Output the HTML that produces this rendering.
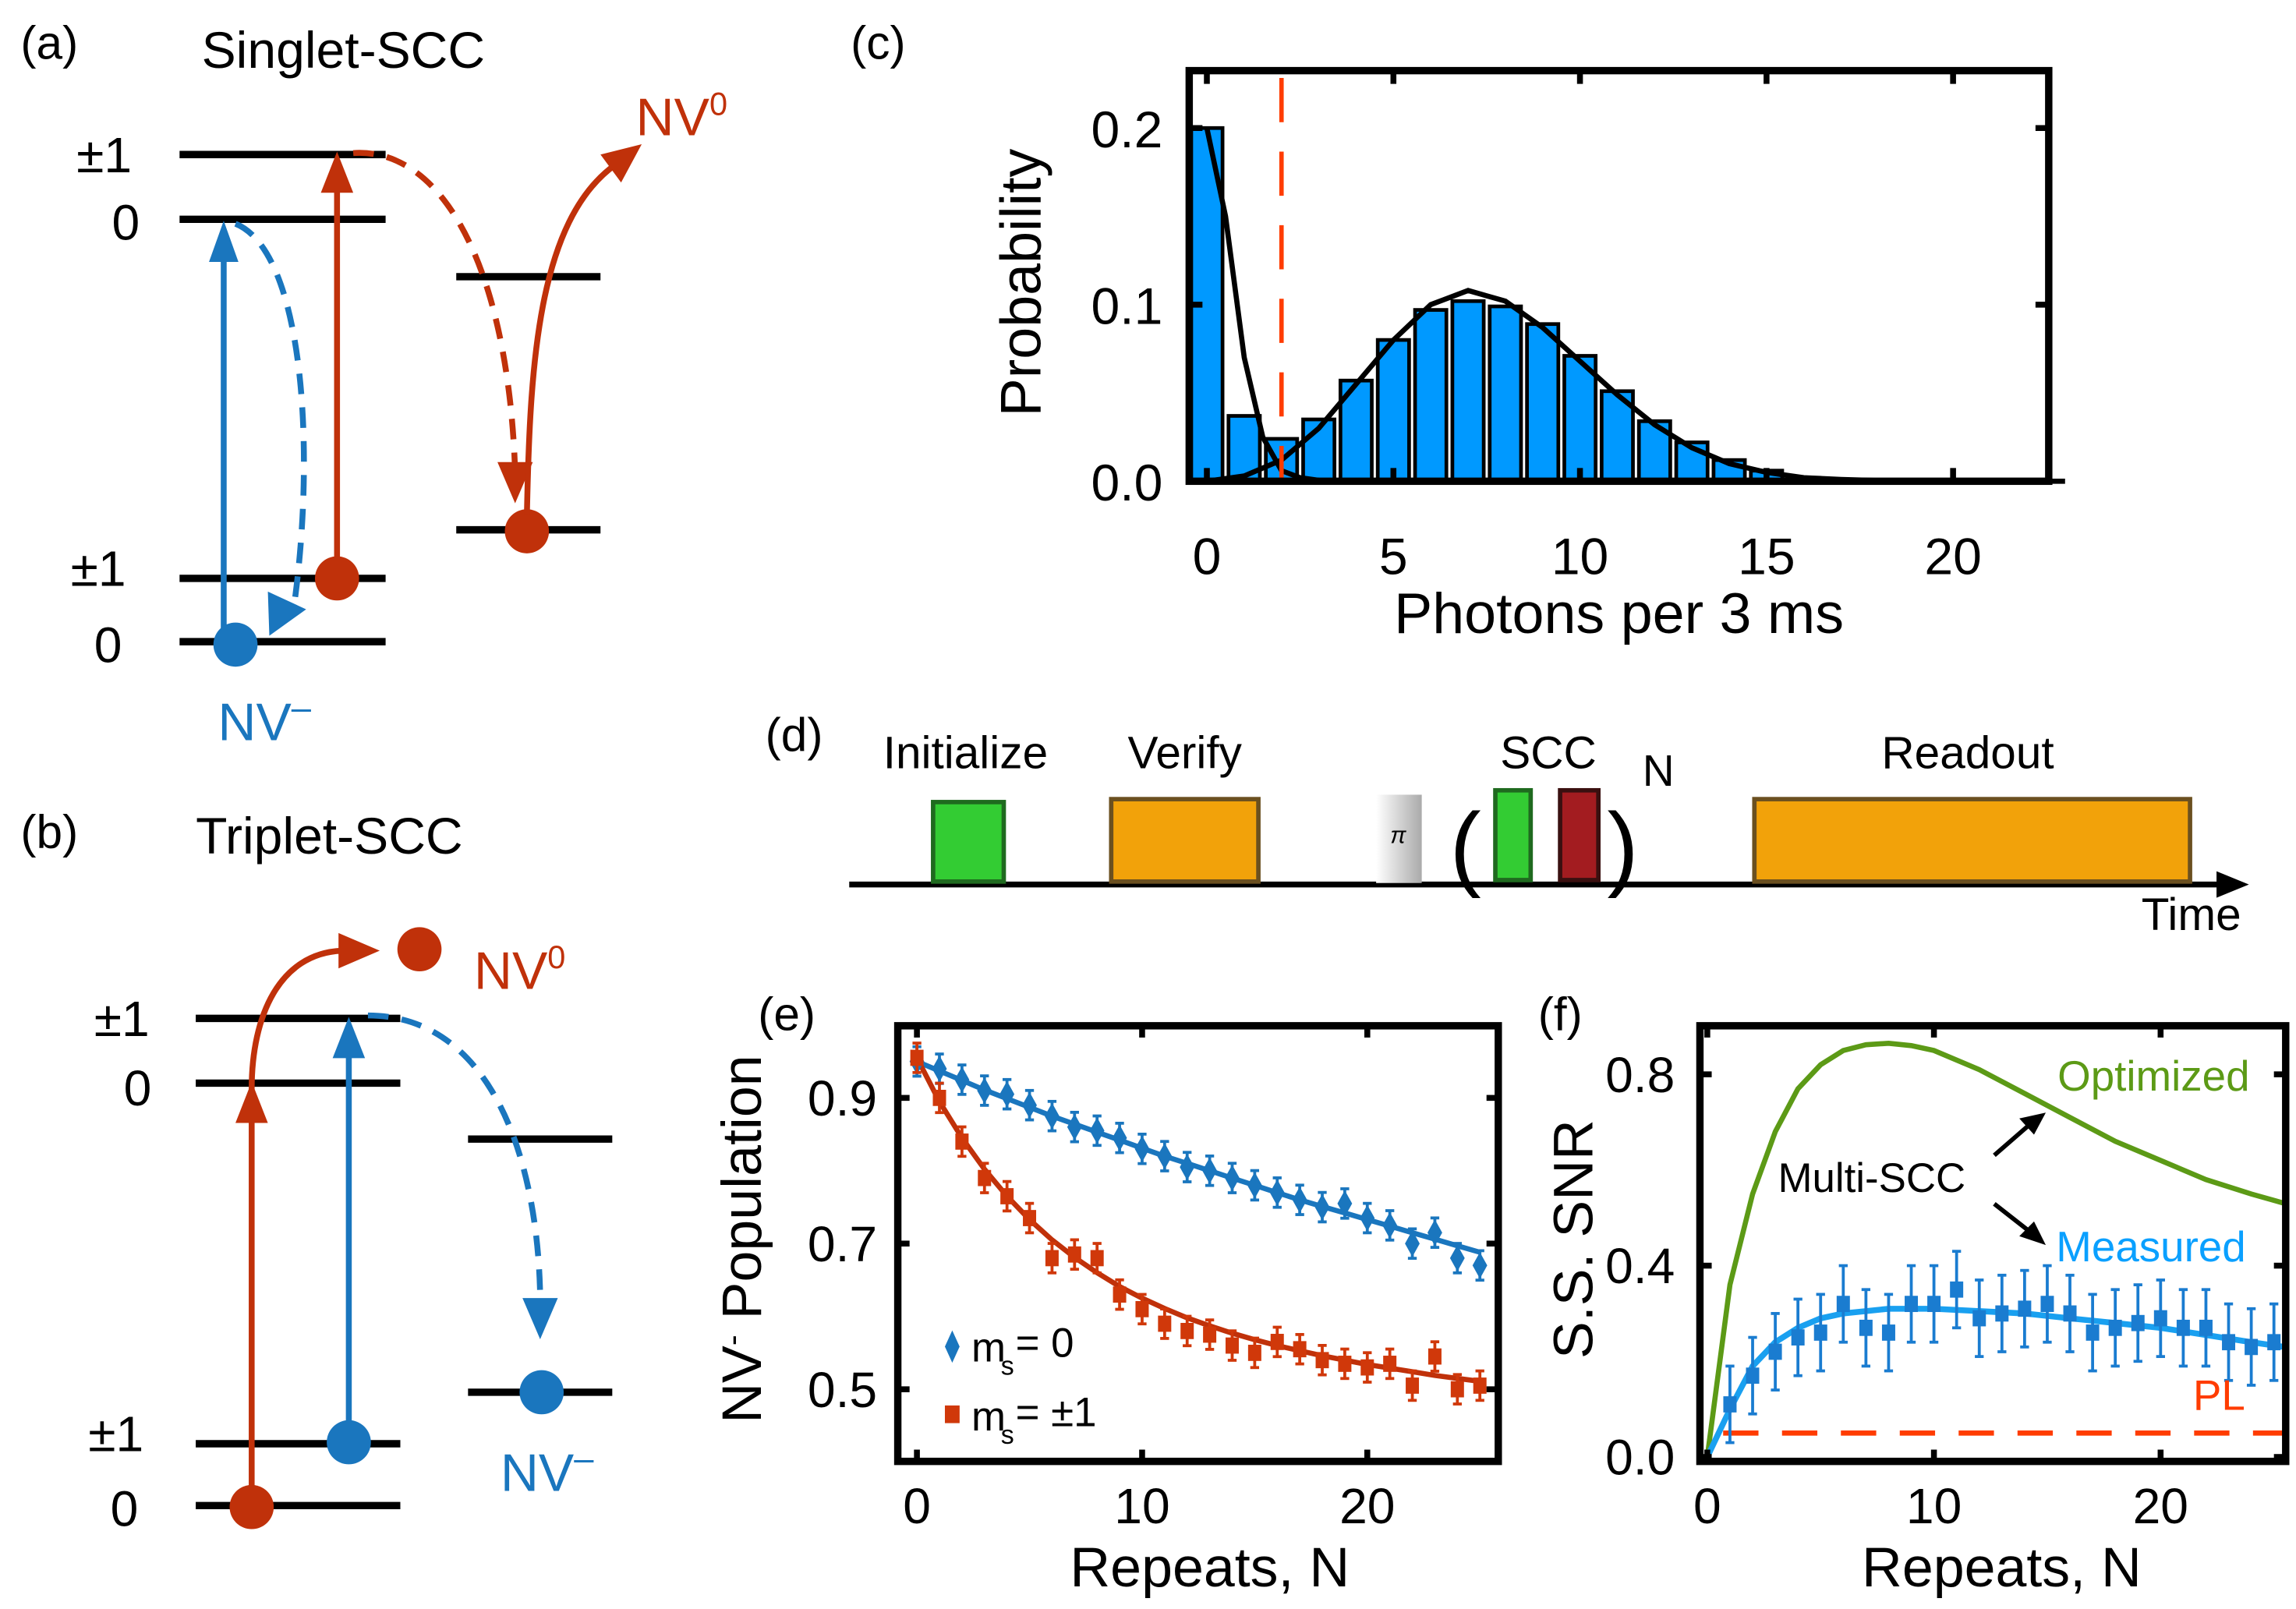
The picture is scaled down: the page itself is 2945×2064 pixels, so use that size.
<!DOCTYPE html>
<html><head><meta charset="utf-8"><style>
html,body{margin:0;padding:0;background:#fff}
svg{display:block;font-family:"Liberation Sans",sans-serif}
</style></head><body>
<svg id="fig" width="2945" height="2064" viewBox="0 0 1560 1093.3" preserveAspectRatio="none" xmlns="http://www.w3.org/2000/svg">
<defs>
<linearGradient id="pig" x1="0" x2="1"><stop offset="0" stop-color="#fff"/><stop offset="1" stop-color="#aaa"/></linearGradient>
</defs>
<g stroke-linecap="butt">
<text x="14" y="40" font-size="32">(a)</text>
<text x="137" y="46" font-size="35">Singlet-SCC</text>
<g stroke="#000" stroke-width="5">
<line x1="122" y1="105" x2="262" y2="105"/><line x1="122" y1="149" x2="262" y2="149"/>
<line x1="310" y1="188" x2="408" y2="188"/><line x1="310" y1="360" x2="408" y2="360"/>
<line x1="122" y1="393" x2="262" y2="393"/><line x1="122" y1="436" x2="262" y2="436"/>
</g>
<g font-size="34"><text x="52" y="117">±1</text><text x="76" y="163">0</text><text x="48" y="398">±1</text><text x="64" y="450">0</text></g>
<line x1="152" y1="436" x2="152" y2="170" stroke="#1a76be" stroke-width="4"/>
<polygon points="152,150 142,178 162,178" fill="#1a76be"/>
<path d="M160,152 C205,170 215,300 200,410" fill="none" stroke="#1a76be" stroke-width="4" stroke-dasharray="14,9"/>
<polygon points="183,432 182,402 208,414" fill="#1a76be"/>
<circle cx="160" cy="438" r="15" fill="#1a76be"/>
<line x1="229" y1="393" x2="229" y2="125" stroke="#c0310a" stroke-width="4"/>
<polygon points="229,103 218,131 240,131" fill="#c0310a"/>
<circle cx="229" cy="393" r="15" fill="#c0310a"/>
<path d="M240,104 C300,100 345,180 350,320" fill="none" stroke="#c0310a" stroke-width="4" stroke-dasharray="14,9"/>
<polygon points="350,342 338,314 362,314" fill="#c0310a"/>
<circle cx="358" cy="361" r="15" fill="#c0310a"/>
<path d="M358,350 C360,250 365,150 418,112" fill="none" stroke="#c0310a" stroke-width="4"/>
<polygon points="436,98 408,105 422,124" fill="#c0310a"/>
<text x="432" y="92" font-size="36" fill="#c0310a">NV<tspan dy="-14" font-size="22">0</tspan></text>
<text x="148" y="503" font-size="36" fill="#1a76be">NV<tspan dy="-14" font-size="24">–</tspan></text>
</g>
<g>
<text x="14" y="576" font-size="32">(b)</text>
<text x="133" y="580" font-size="35">Triplet-SCC</text>
<g stroke="#000" stroke-width="5">
<line x1="133" y1="692" x2="272" y2="692"/><line x1="133" y1="736" x2="272" y2="736"/>
<line x1="318" y1="774" x2="416" y2="774"/><line x1="318" y1="946" x2="416" y2="946"/>
<line x1="133" y1="981" x2="272" y2="981"/><line x1="133" y1="1023" x2="272" y2="1023"/>
</g>
<g font-size="34"><text x="64" y="704">±1</text><text x="84" y="751">0</text><text x="60" y="986">±1</text><text x="75" y="1037">0</text></g>
<path d="M171,1024 L171,740 C171,690 190,648 232,646" fill="none" stroke="#c0310a" stroke-width="4"/>
<polygon points="171,735 160,763 182,763" fill="#c0310a"/>
<polygon points="258,646 230,634 230,658" fill="#c0310a"/>
<circle cx="171" cy="1024" r="15" fill="#c0310a"/>
<circle cx="285" cy="645" r="15" fill="#c0310a"/>
<text x="322" y="672" font-size="36" fill="#c0310a">NV<tspan dy="-14" font-size="22">0</tspan></text>
<line x1="237" y1="980" x2="237" y2="712" stroke="#1a76be" stroke-width="4"/>
<polygon points="237,691 226,719 248,719" fill="#1a76be"/>
<circle cx="237" cy="980" r="15" fill="#1a76be"/>
<path d="M250,690 C330,690 365,780 367,880" fill="none" stroke="#1a76be" stroke-width="4" stroke-dasharray="14,9"/>
<polygon points="367,910 355,882 379,882" fill="#1a76be"/>
<circle cx="368" cy="946" r="15" fill="#1a76be"/>
<text x="340" y="1013" font-size="36" fill="#1a76be">NV<tspan dy="-14" font-size="24">–</tspan></text>
</g>
<g>
<text x="520" y="510" font-size="32">(d)</text>
<line x1="577" y1="601" x2="1515" y2="601" stroke="#000" stroke-width="4"/>
<polygon points="1528,601 1506,592 1506,610" fill="#000"/>
<text x="1455" y="632" font-size="31">Time</text>
<rect x="634" y="545" width="48" height="54" fill="#33cc33" stroke="#1f6a1f" stroke-width="3"/>
<text x="656" y="522" font-size="31" text-anchor="middle">Initialize</text>
<rect x="755" y="543" width="100" height="56" fill="#f2a20a" stroke="#6b5020" stroke-width="3"/>
<text x="805" y="522" font-size="31" text-anchor="middle">Verify</text>
<rect x="935" y="540" width="31" height="60" fill="url(#pig)"/>
<text x="950" y="573" font-size="16" text-anchor="middle" font-style="italic">π</text>
<text x="985" y="597" font-size="64">(</text>
<rect x="1016" y="537" width="24" height="61" fill="#33cc33" stroke="#1f6a1f" stroke-width="3"/>
<rect x="1060" y="537" width="26" height="61" fill="#a31c20" stroke="#3a1010" stroke-width="3"/>
<text x="1092" y="597" font-size="64">)</text>
<text x="1052" y="522" font-size="31" text-anchor="middle">SCC</text>
<text x="1116" y="534" font-size="30">N</text>
<rect x="1192" y="543" width="296" height="56" fill="#f2a20a" stroke="#6b5020" stroke-width="3"/>
<text x="1337" y="522" font-size="31" text-anchor="middle">Readout</text>
</g>
<g id="pc"></g>
<g id="pe"></g>
<g id="pf"></g>
</svg>
<script>
const NS="http://www.w3.org/2000/svg";
function mk(parent,tag,attrs,text){const e=document.createElementNS(NS,tag);for(const k in attrs)e.setAttribute(k,attrs[k]);if(text!==undefined)e.textContent=text;parent.appendChild(e);return e;}
const histBins=[0,1,2,3,4,5,6,7,8,9,10,11,12,13,14,15,16,17];
const histProb=[0.200,0.037,0.024,0.035,0.057,0.080,0.097,0.102,0.099,0.089,0.071,0.051,0.034,0.022,0.012,0.006,0.002,0.001];
const fitDarkX=[0,0.5,1,1.5,2,2.5,3,4];
const fitDarkY=[0.200,0.15,0.07,0.025,0.006,0.002,0.0005,0];
const fitBrightX=[0,1,2,3,4,5,6,7,8,9,10,11,12,13,14,15,16,17,18,20,23];
const fitBrightY=[0,0.003,0.012,0.030,0.055,0.080,0.100,0.108,0.102,0.087,0.068,0.049,0.032,0.019,0.010,0.005,0.002,0.001,0.0004,0,0];
const cXTicks=[0,5,10,15,20];
const cYTicks=[0.0,0.1,0.2];
const threshold=2;
const repeatsE=[0,1,2,3,4,5,6,7,8,9,10,11,12,13,14,15,16,17,18,19,20,21,22,23,24,25];
const pop0=[0.95,0.94,0.925,0.91,0.905,0.89,0.875,0.86,0.855,0.845,0.83,0.82,0.805,0.80,0.79,0.78,0.77,0.76,0.75,0.755,0.735,0.725,0.70,0.715,0.68,0.67];
const pop1=[0.955,0.90,0.84,0.79,0.765,0.735,0.68,0.685,0.68,0.63,0.61,0.59,0.58,0.575,0.56,0.55,0.565,0.555,0.54,0.535,0.53,0.535,0.505,0.545,0.50,0.505];
const fit0=[0.95,0.937,0.924,0.911,0.899,0.887,0.875,0.864,0.853,0.842,0.831,0.820,0.810,0.800,0.790,0.780,0.770,0.760,0.751,0.742,0.733,0.724,0.715,0.706,0.697,0.688];
const fit1=[0.955,0.895,0.845,0.802,0.765,0.733,0.705,0.681,0.660,0.641,0.625,0.611,0.598,0.587,0.577,0.568,0.560,0.553,0.546,0.540,0.534,0.529,0.524,0.519,0.515,0.511];
const eXTicks=[0,10,20];
const eYTicks=[0.5,0.7,0.9];
const optN=[0,0.5,1,2,3,4,5,6,7,8,9,10,12,14,16,18,20,22,24,25.5];
const optSNR=[0,0.18,0.36,0.55,0.68,0.77,0.82,0.85,0.862,0.865,0.86,0.85,0.81,0.76,0.71,0.66,0.62,0.58,0.55,0.53];
const measN=[1,2,3,4,5,6,7,8,9,10,11,12,13,14,15,16,17,18,19,20,21,22,23,24,25];
const measSNR=[0.11,0.17,0.22,0.25,0.26,0.32,0.27,0.26,0.32,0.32,0.35,0.29,0.30,0.31,0.32,0.30,0.26,0.27,0.28,0.29,0.27,0.27,0.24,0.23,0.24];
const measErr=[0.08,0.08,0.08,0.08,0.08,0.08,0.08,0.08,0.08,0.08,0.08,0.08,0.08,0.08,0.08,0.08,0.08,0.08,0.08,0.08,0.08,0.08,0.08,0.08,0.08];
const measFitN=[0,1,2,3,4,5,6,8,10,12,14,16,18,20,22,24,25.5];
const measFitY=[0,0.10,0.19,0.24,0.27,0.29,0.30,0.31,0.31,0.305,0.30,0.29,0.28,0.27,0.255,0.24,0.23];
const plLevel=0.05;
const fXTicks=[0,10,20];
const fYTicks=[0.0,0.4,0.8];

function frame(g,x0,y0,x1,y1){const r=mk(g,'rect',{x:x0,y:y0,width:x1-x0,height:y1-y0,fill:'none',stroke:'#000','stroke-width':5});}
function line(g,xs,ys,sx,sy,attrs){const d=xs.map((v,i)=>(i?'L':'M')+sx(v).toFixed(1)+','+sy(ys[i]).toFixed(1)).join('');return mk(g,'path',Object.assign({d:d,fill:'none'},attrs));}

(function(){
const g=document.getElementById('pc');
const X0=808,X1=1392,Y0=48,Y1=327;
const sx=v=>820+v*25.35, sy=v=>327-v*1200;
mk(g,'text',{x:578,y:40,'font-size':32},'(c)');
histBins.forEach((b,i)=>{const r=mk(g,'rect',{x:sx(b-0.42),y:sy(histProb[i]),width:25.35*0.84,height:Math.max(0,327-sy(histProb[i])),fill:'#0099ff',stroke:'#000','stroke-width':2.5});
});
line(g,fitDarkX,fitDarkY,sx,sy,{stroke:'#000','stroke-width':3.5});
line(g,fitBrightX,fitBrightY,sx,sy,{stroke:'#000','stroke-width':3.5});
const th=mk(g,'line',{x1:sx(threshold),x2:sx(threshold),y1:Y0+5,y2:Y1,stroke:'#ff3c00','stroke-width':3,'stroke-dasharray':'30,20'});

frame(g,X0,Y0,X1,Y1);
cXTicks.forEach(t=>{mk(g,'line',{x1:sx(t),x2:sx(t),y1:Y0,y2:Y0+9,stroke:'#000','stroke-width':4});mk(g,'line',{x1:sx(t),x2:sx(t),y1:Y1,y2:Y1-9,stroke:'#000','stroke-width':4});
const tl=mk(g,'text',{x:sx(t),y:390,'font-size':35,'text-anchor':'middle'},String(t));});
cYTicks.forEach(t=>{mk(g,'line',{x1:X0,x2:X0+9,y1:sy(t),y2:sy(t),stroke:'#000','stroke-width':4});mk(g,'line',{x1:X1,x2:X1-9,y1:sy(t),y2:sy(t),stroke:'#000','stroke-width':4});
const tl=mk(g,'text',{x:790,y:sy(t)+13,'font-size':35,'text-anchor':'end'},t.toFixed(1));});
const xt=mk(g,'text',{x:1100,y:430,'font-size':39,'text-anchor':'middle'},'Photons per 3 ms');
const yt=mk(g,'text',{x:0,y:0,'font-size':39,'text-anchor':'middle',transform:'translate(707,192) rotate(-90)'},'Probability');
})();

(function(){
const g=document.getElementById('pe');
const X0=610,X1=1018,Y0=697,Y1=993;
const sx=v=>623+v*15.3, sy=v=>944-(v-0.5)*495;
mk(g,'text',{x:515,y:700,'font-size':32},'(e)');
line(g,repeatsE,fit0,sx,sy,{stroke:'#1a76be','stroke-width':3.5});
line(g,repeatsE,fit1,sx,sy,{stroke:'#c0310a','stroke-width':3.5});
repeatsE.forEach((n,i)=>{
 const x=sx(n);
 [[pop0[i],'#1a76be','diamond'],[pop1[i],'#d0380a','square']].forEach(([v,c,s])=>{
  const y=sy(v);
  mk(g,'line',{x1:x,x2:x,y1:y-10,y2:y+10,stroke:c,'stroke-width':2});
  mk(g,'line',{x1:x-3,x2:x+3,y1:y-10,y2:y-10,stroke:c,'stroke-width':2});
  mk(g,'line',{x1:x-3,x2:x+3,y1:y+10,y2:y+10,stroke:c,'stroke-width':2});
  let m;
  if(s==='diamond'){m=mk(g,'polygon',{points:`${x},${y-9} ${x+5},${y} ${x},${y+9} ${x-5},${y}`,fill:c});}
  else{m=mk(g,'rect',{x:x-4.5,y:y-5.5,width:9,height:11,fill:c});}
  
 });
});
frame(g,X0,Y0,X1,Y1);
eXTicks.forEach(t=>{mk(g,'line',{x1:sx(t),x2:sx(t),y1:Y0,y2:Y0+8,stroke:'#000','stroke-width':4});mk(g,'line',{x1:sx(t),x2:sx(t),y1:Y1,y2:Y1-8,stroke:'#000','stroke-width':4});
const tl=mk(g,'text',{x:sx(t),y:1035,'font-size':34,'text-anchor':'middle'},String(t));});
eYTicks.forEach(t=>{mk(g,'line',{x1:X0,x2:X0+8,y1:sy(t),y2:sy(t),stroke:'#000','stroke-width':4});mk(g,'line',{x1:X1,x2:X1-8,y1:sy(t),y2:sy(t),stroke:'#000','stroke-width':4});
const tl=mk(g,'text',{x:596,y:sy(t)+12,'font-size':34,'text-anchor':'end'},t.toFixed(1));});
mk(g,'polygon',{points:'647,904 652,915 647,926 642,915',fill:'#1a76be'});
mk(g,'text',{x:660,y:925,'font-size':28},'m');
mk(g,'text',{x:690,y:922,'font-size':28},'= 0');
mk(g,'text',{x:680,y:934,'font-size':18},'s');
mk(g,'rect',{x:642,y:955,width:10,height:12,fill:'#d0380a'});
mk(g,'text',{x:660,y:972,'font-size':28},'m');
mk(g,'text',{x:690,y:969,'font-size':28},'= ±1');
mk(g,'text',{x:680,y:981,'font-size':18},'s');
const xt=mk(g,'text',{x:822,y:1078,'font-size':38,'text-anchor':'middle'},'Repeats, N');
const yt=mk(g,'text',{x:0,y:0,'font-size':38,'text-anchor':'middle',transform:'translate(517,842) rotate(-90)'},'NV');
mk(yt,'tspan',{dy:-12,'font-size':22},'-');mk(yt,'tspan',{dy:12},' Population');
})();

(function(){
const g=document.getElementById('pf');
const X0=1155,X1=1553,Y0=697,Y1=993;
const sx=v=>1160+v*15.4, sy=v=>990-v*325;
mk(g,'text',{x:1045,y:700,'font-size':32},'(f)');
const oc=line(g,optN,optSNR,sx,sy,{stroke:'#5c9a16','stroke-width':3.5});

const pl=mk(g,'line',{x1:sx(0.7),x2:sx(25.6),y1:sy(plLevel),y2:sy(plLevel),stroke:'#ff3c00','stroke-width':3.5,'stroke-dasharray':'24,16'});

line(g,measFitN,measFitY,sx,sy,{stroke:'#19a0f0','stroke-width':4});
measN.forEach((n,i)=>{const x=sx(n),y=sy(measSNR[i]),e=measErr[i]*325;
 mk(g,'line',{x1:x,x2:x,y1:y-e,y2:y+e,stroke:'#1a7cd0','stroke-width':2});
 mk(g,'line',{x1:x-3,x2:x+3,y1:y-e,y2:y-e,stroke:'#1a7cd0','stroke-width':2});
 mk(g,'line',{x1:x-3,x2:x+3,y1:y+e,y2:y+e,stroke:'#1a7cd0','stroke-width':2});
 const m=mk(g,'rect',{x:x-4.5,y:y-5.5,width:9,height:11,fill:'#1a7cd0'});
 });
frame(g,X0,Y0,X1,Y1);
fXTicks.forEach(t=>{mk(g,'line',{x1:sx(t),x2:sx(t),y1:Y0,y2:Y0+8,stroke:'#000','stroke-width':4});mk(g,'line',{x1:sx(t),x2:sx(t),y1:Y1,y2:Y1-8,stroke:'#000','stroke-width':4});
const tl=mk(g,'text',{x:sx(t),y:1035,'font-size':34,'text-anchor':'middle'},String(t));});
fYTicks.forEach(t=>{mk(g,'line',{x1:X0,x2:X0+8,y1:sy(t),y2:sy(t),stroke:'#000','stroke-width':4});mk(g,'line',{x1:X1,x2:X1-8,y1:sy(t),y2:sy(t),stroke:'#000','stroke-width':4});
const tl=mk(g,'text',{x:1138,y:sy(t)+12,'font-size':34,'text-anchor':'end'},t.toFixed(1));});
mk(g,'text',{x:1398,y:741,'font-size':29,fill:'#5c9a16'},'Optimized');
mk(g,'text',{x:1397,y:857,'font-size':29,fill:'#0aa0ff'},'Measured');
mk(g,'text',{x:1490,y:958,'font-size':29,fill:'#ff3c00'},'PL');
mk(g,'text',{x:1208,y:810,'font-size':28},'Multi-SCC');
mk(g,'line',{x1:1355,y1:785,x2:1378,y2:765,stroke:'#000','stroke-width':3});
mk(g,'polygon',{points:'1390,756 1372,760 1382,771',fill:'#000'});
mk(g,'line',{x1:1355,y1:818,x2:1378,y2:836,stroke:'#000','stroke-width':3});
mk(g,'polygon',{points:'1390,846 1372,840 1382,830',fill:'#000'});
const xt=mk(g,'text',{x:1360,y:1078,'font-size':38,'text-anchor':'middle'},'Repeats, N');
const yt=mk(g,'text',{x:0,y:0,'font-size':38,'text-anchor':'middle',transform:'translate(1082,842) rotate(-90)'},'S.S. SNR');
})();
</script>
</body></html>
